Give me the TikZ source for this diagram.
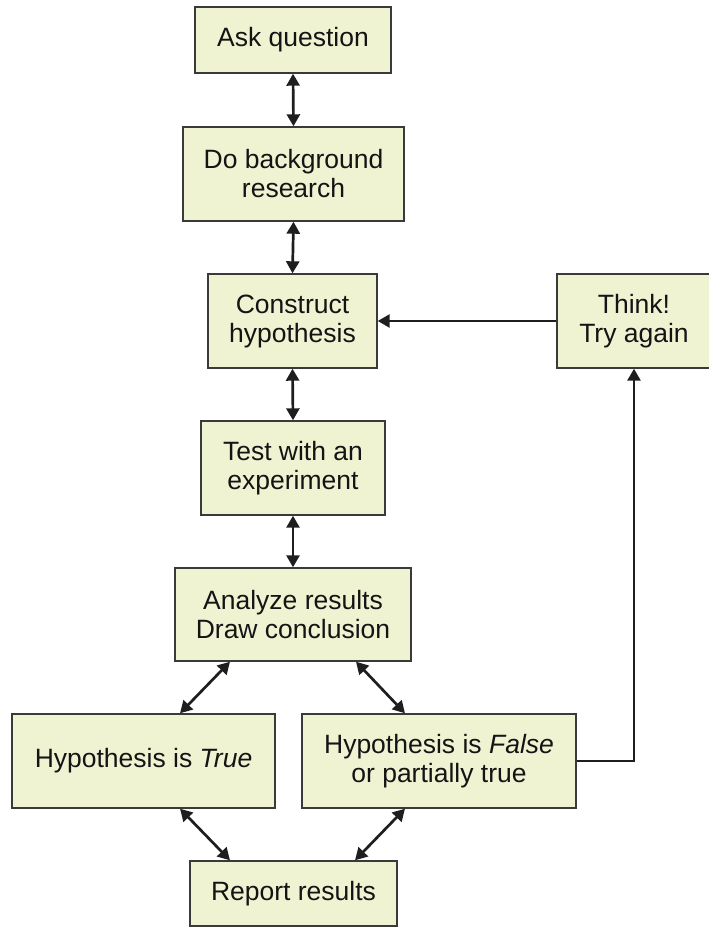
\documentclass[tikz,border=0pt]{standalone}
\usepackage{fontspec}
\setmainfont{Liberation Sans}
\usetikzlibrary{arrows.meta}
\definecolor{boxfill}{HTML}{F0F3D2}
\definecolor{boxline}{HTML}{3A3A3A}
\definecolor{arrowc}{HTML}{1E1E1E}
\begin{document}
\begin{tikzpicture}[x=1pt,y=-1pt,
  stepbox/.style={draw=boxline, fill=boxfill, line width=1.4pt, inner sep=0pt,
    align=center, font=\fontsize{26.5}{29}\selectfont, text=black!92},
  dbl/.style={arrowc, line width=2.7pt, {Triangle[length=12pt,width=13pt]}-{Triangle[length=12pt,width=13pt]}},
  sgl/.style={arrowc, line width=2.7pt, -{Triangle[length=12pt,width=13pt]}}]
\useasboundingbox (0,0) rectangle (709,927);
\begin{scope}
\clip (0,0) rectangle (709,927);
\node[stepbox, minimum width=196pt, minimum height=66pt] (ask) at (293,40) {Ask question};
\node[stepbox, minimum width=221pt, minimum height=94pt] (bg) at (293.5,174) {Do background\\research};
\node[stepbox, minimum width=169pt, minimum height=94pt] (con) at (292.5,321) {Construct\\hypothesis};
\node[stepbox, minimum width=184pt, minimum height=94pt] (test) at (293,468) {Test with an\\experiment};
\node[stepbox, minimum width=236pt, minimum height=93pt] (ana) at (293,614.5) {Analyze results\\Draw conclusion};
\node[stepbox, minimum width=263pt, minimum height=94pt] (true) at (143.5,761) {Hypothesis is \textit{True}};
\node[stepbox, minimum width=274pt, minimum height=94pt] (false) at (439,761) {Hypothesis is \textit{False}\\or partially true};
\node[stepbox, minimum width=207pt, minimum height=65pt] (report) at (293.5,893.5) {Report results};
\node[stepbox, minimum width=154pt, minimum height=94pt] (think) at (634,321) {Think!\\Try again};

\draw[dbl] (ask.south) -- (bg.north);
\draw[dbl] (bg.south) -- (con.north);
\draw[dbl] (con.south) -- (test.north);
\draw[dbl] (test.south) -- (ana.north);
\draw[dbl] ([xshift=-63pt]ana.south) -- ([xshift=36.5pt]true.north);
\draw[dbl] ([xshift=63pt]ana.south) -- ([xshift=-34pt]false.north);
\draw[dbl] ([xshift=36.5pt]true.south) -- ([xshift=-63.5pt]report.north);
\draw[dbl] ([xshift=-34pt]false.south) -- ([xshift=61.5pt]report.north);
\draw[sgl] (think.west) -- (con.east);
\draw[sgl] (false.east) -| (think.south);
\end{scope}
\end{tikzpicture}
\end{document}
